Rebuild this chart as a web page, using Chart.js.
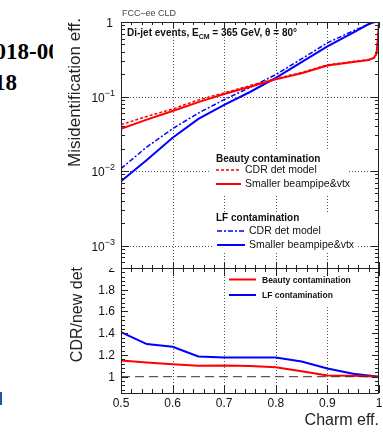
<!DOCTYPE html>
<html lang="en">
<head>
    <meta charset="UTF-8">
    <title>Charm tagging misidentification</title>
    <script src="https://cdn.jsdelivr.net/npm/chart.js"></script>
    <style>
        body {
            margin: 0;
            background: #fff;
            width: 383px;
            height: 432px;
            overflow: hidden;
            position: relative;
        }
        /* bits of the slide behind the figure */
        .slideText {
            position: absolute;
            left: 0;
            width: 53px;
            overflow: hidden;
            white-space: nowrap;
            font-family: 'Liberation Serif', 'Times New Roman', serif;
            font-weight: bold;
            font-size: 23px;
            line-height: 23px;
            color: #000;
        }
        .slideText span { position: relative; }
        #blueMark {
            position: absolute;
            left: 0;
            top: 392px;
            width: 2px;
            height: 13px;
            background: #1f56a8;
        }
        canvas { position: absolute; left: 0; }
        #topChart { top: 0; }
        #ratioChart { top: 262px; }
    </style>
</head>
<body>

<div class="slideText" style="top: 40px;"><span style="left: -17px;">2018-00</span></div>
<div class="slideText" style="top: 71px;"><span style="left: -29px;">2018</span></div>
<div id="blueMark"></div>

<canvas id="topChart" width="383" height="268"></canvas>
<canvas id="ratioChart" width="383" height="170"></canvas>

<script>
    // charm efficiency points (x) for the upper panel
    const effX = [0.5, 0.55, 0.6, 0.65, 0.7, 0.75, 0.8, 0.85, 0.9, 0.95, 0.98, 0.99, 0.995, 0.998, 1.0];
    // misidentification efficiencies
    const beautyCdr = [0.042, 0.054, 0.068, 0.090, 0.112, 0.140, 0.174, 0.210, 0.266, 0.295, 0.313, 0.33, 0.38, 0.63, 1.0];
    const beautyNew = [0.037, 0.049, 0.064, 0.084, 0.108, 0.135, 0.170, 0.205, 0.260, 0.290, 0.310, 0.33, 0.37, 0.60, 1.0];
    const lfCdr = [0.0108, 0.021, 0.037, 0.060, 0.091, 0.132, 0.197, 0.32, 0.525, 0.76, 0.93, 1.0, 1.0, 1.0, 1.0];
    const lfNew = [0.0073, 0.0141, 0.028, 0.050, 0.077, 0.115, 0.178, 0.29, 0.47, 0.72, 0.94, 0.99, 1.0, 1.0, 1.0];

    // ratio panel (CDR / new detector)
    const ratioX = [0.5, 0.55, 0.6, 0.65, 0.7, 0.75, 0.8, 0.85, 0.9, 0.95, 1.0];
    const beautyRatio = [1.15, 1.13, 1.115, 1.10, 1.103, 1.098, 1.086, 1.05, 1.012, 1.009, 1.0];
    const lfRatio = [1.41, 1.30, 1.275, 1.186, 1.177, 1.177, 1.177, 1.14, 1.076, 1.028, 1.0];
    const unityX = [0.5, 1.0];
    const unityY = [1, 1];

    // axis ticks
    const xTicks = [0.5, 0.6, 0.7, 0.8, 0.9, 1.0];
    const xTickLabels = ['0.5', '0.6', '0.7', '0.8', '0.9', '1'];
    const logTicks = [1, 0.1, 0.01, 0.001];
    const logTickExp = ['', '\u22121', '\u22122', '\u22123'];
    const ratioTicks = [1, 1.2, 1.4, 1.6, 1.8, 2];
    const ratioTickLabels = ['1', '1.2', '1.4', '1.6', '1.8', '2'];

    const FONT = "'Liberation Sans', Arial, Helvetica, sans-serif";
    const RED = '#ff0000';
    const BLUE = '#0000ff';

    function pts(xs, ys) {
        return xs.map((x, i) => ({ x: x, y: ys[i] }));
    }

    function line(ctx, x1, y1, x2, y2) {
        ctx.beginPath();
        ctx.moveTo(x1, y1);
        ctx.lineTo(x2, y2);
        ctx.stroke();
    }

    // dotted grid lines like ROOT
    function drawGrid(chart, xVals, yVals) {
        const ctx = chart.ctx;
        const { left, right, top, bottom } = chart.chartArea;
        ctx.save();
        ctx.strokeStyle = '#555';
        ctx.lineWidth = 1;
        ctx.setLineDash([1, 2]);
        xVals.forEach(v => {
            const px = Math.round(chart.scales.x.getPixelForValue(v)) + 0.5;
            line(ctx, px, top, px, bottom);
        });
        yVals.forEach(v => {
            const py = Math.round(chart.scales.y.getPixelForValue(v)) + 0.5;
            line(ctx, left, py, right, py);
        });
        ctx.restore();
    }

    // frame plus inward ticks on all four sides
    function drawFrame(chart, xMajor, xMinor, yTickList) {
        const ctx = chart.ctx;
        const { left, right, top, bottom } = chart.chartArea;
        ctx.save();
        ctx.strokeStyle = '#222';
        ctx.lineWidth = 1;
        ctx.strokeRect(left + 0.5, top + 0.5, right - left - 1, bottom - top);
        for (let k = 0; k <= 25; k++) {
            const v = 0.5 + k * 0.02;
            const px = Math.round(chart.scales.x.getPixelForValue(v)) + 0.5;
            const len = k % 5 === 0 ? xMajor : xMinor;
            line(ctx, px, bottom, px, bottom - len);
            line(ctx, px, top, px, top + len);
        }
        yTickList.forEach(t => {
            const py = Math.round(chart.scales.y.getPixelForValue(t.v)) + 0.5;
            line(ctx, left, py, left + t.len, py);
            line(ctx, right, py, right - t.len, py);
        });
        ctx.restore();
    }

    const topPanel = {
        id: 'topPanel',
        beforeDatasetsDraw(chart) {
            drawGrid(chart, xTicks.slice(1, -1), logTicks.slice(1));
        },
        afterDatasetsDraw(chart) {
            const ctx = chart.ctx;
            const ys = chart.scales.y;

            // legend boxes
            ctx.save();
            ctx.fillStyle = '#fff';
            ctx.fillRect(210, 151, 138, 44);
            ctx.fillRect(212, 213, 146, 40);

            ctx.fillStyle = '#111';
            ctx.textAlign = 'left';
            ctx.font = 'bold 10px ' + FONT;
            ctx.fillText('Beauty contamination', 216, 162);
            ctx.fillText('LF contamination', 216, 221);
            ctx.font = '10.5px ' + FONT;
            ctx.fillText('CDR det model', 245, 173);
            ctx.fillText('Smaller beampipe&vtx', 245, 187);
            ctx.fillText('CDR det model', 249, 234);
            ctx.fillText('Smaller beampipe&vtx', 249, 248);

            ctx.strokeStyle = RED;
            ctx.lineWidth = 1.5;
            ctx.setLineDash([3, 2]);
            line(ctx, 216, 170, 241, 170);
            ctx.setLineDash([]);
            ctx.lineWidth = 2;
            line(ctx, 216, 184, 241, 184);
            ctx.strokeStyle = BLUE;
            ctx.lineWidth = 1.5;
            ctx.setLineDash([5, 2, 2, 2]);
            line(ctx, 217, 231, 245, 231);
            ctx.setLineDash([]);
            ctx.lineWidth = 2;
            line(ctx, 217, 245, 245, 245);
            ctx.restore();

            // ticks: decades and 2..9 in between
            const yt = [{ v: 1, len: 8 }];
            for (let e = -4; e <= -1; e++) {
                for (let m = 1; m <= 9; m++) {
                    const v = m * Math.pow(10, e);
                    if (v < 5e-4 * 0.999 || v > 1.001) continue;
                    yt.push({ v: v, len: m === 1 ? 8 : 4 });
                }
            }
            drawFrame(chart, 6, 3, yt);

            // y tick labels with superscript powers
            ctx.save();
            ctx.fillStyle = '#111';
            ctx.textAlign = 'right';
            logTicks.forEach((v, i) => {
                const py = ys.getPixelForValue(v);
                if (logTickExp[i] === '') {
                    ctx.font = '12px ' + FONT;
                    ctx.fillText('1', 113, py + 5);
                } else {
                    ctx.font = '9px ' + FONT;
                    ctx.fillText(logTickExp[i], 115, py - 1);
                    const w = ctx.measureText(logTickExp[i]).width;
                    ctx.font = '12px ' + FONT;
                    ctx.fillText('10', 115 - w, py + 5);
                }
            });

            // axis title
            ctx.save();
            ctx.translate(80, 18);
            ctx.rotate(-Math.PI / 2);
            ctx.font = '17px ' + FONT;
            ctx.fillStyle = '#222';
            ctx.fillText('Misidentification eff.', 0, 0);
            ctx.restore();

            // labels above / inside the frame
            ctx.textAlign = 'left';
            ctx.fillStyle = '#444';
            ctx.font = '9px ' + FONT;
            ctx.fillText('FCC\u2013ee CLD', 122, 16);

            ctx.fillStyle = '#111';
            let x = 127;
            ctx.font = 'bold 10px ' + FONT;
            ctx.fillText('Di-jet events, E', x, 36);
            x += ctx.measureText('Di-jet events, E').width;
            ctx.font = 'bold 7px ' + FONT;
            ctx.fillText('CM', x, 39);
            x += ctx.measureText('CM').width;
            ctx.font = 'bold 10px ' + FONT;
            ctx.fillText(' = 365 GeV, \u03b8 = 80\u00b0', x, 36);
            ctx.restore();
        }
    };

    const ratioPanel = {
        id: 'ratioPanel',
        beforeDatasetsDraw(chart) {
            drawGrid(chart, xTicks.slice(1, -1), []);
            // legend box hides the grid behind it
            const ctx = chart.ctx;
            ctx.save();
            ctx.fillStyle = '#fff';
            ctx.fillRect(225, 7, 132, 36);
            ctx.restore();
        },
        afterDatasetsDraw(chart) {
            const ctx = chart.ctx;
            const { left, right, top, bottom } = chart.chartArea;
            const xs = chart.scales.x;
            const ys = chart.scales.y;

            ctx.save();
            ctx.lineWidth = 2;
            ctx.strokeStyle = RED;
            line(ctx, 229, 17.5, 256, 17.5);
            ctx.strokeStyle = BLUE;
            line(ctx, 229, 33, 256, 33);
            ctx.fillStyle = '#111';
            ctx.font = 'bold 8.5px ' + FONT;
            ctx.fillText('Beauty contamination', 262, 20.5);
            ctx.fillText('LF contamination', 262, 36);
            ctx.restore();

            const yt = [];
            for (let k = 0; k <= 28; k++) {
                const v = 0.88 + k * 0.04;
                if (v > 2.001) break;
                const r = (v - 1) / 0.2;
                yt.push({ v: v, len: Math.abs(r - Math.round(r)) < 1e-6 ? 7 : 4 });
            }
            drawFrame(chart, 8, 4, yt);

            ctx.save();
            ctx.fillStyle = '#111';
            ctx.font = '12px ' + FONT;
            ctx.textAlign = 'right';
            // the "2" label is half hidden by the upper pad
            ctx.save();
            ctx.beginPath();
            ctx.rect(0, top, left, bottom - top);
            ctx.clip();
            ratioTicks.forEach((v, i) => {
                ctx.fillText(ratioTickLabels[i], 115, ys.getPixelForValue(v) + 4);
            });
            ctx.restore();

            ctx.textAlign = 'center';
            xTicks.forEach((v, i) => {
                ctx.fillText(xTickLabels[i], xs.getPixelForValue(v), bottom + 14);
            });

            ctx.fillStyle = '#222';
            ctx.font = '16px ' + FONT;
            ctx.textAlign = 'right';
            ctx.fillText('Charm eff.', right, bottom + 32);

            ctx.translate(82, top - 1);
            ctx.rotate(-Math.PI / 2);
            ctx.fillText('CDR/new det', 0, 0);
            ctx.restore();
        }
    };

    const common = {
        responsive: false,
        animation: false,
        devicePixelRatio: 1,
        plugins: { legend: { display: false }, tooltip: { enabled: false } },
        elements: { point: { radius: 0 }, line: { tension: 0, fill: false } }
    };

    new Chart(document.getElementById('topChart'), {
        type: 'line',
        data: {
            datasets: [
                { label: 'Beauty CDR det model', data: pts(effX, beautyCdr), borderColor: RED, borderWidth: 1.5, borderDash: [3, 2] },
                { label: 'Beauty smaller beampipe&vtx', data: pts(effX, beautyNew), borderColor: RED, borderWidth: 2 },
                { label: 'LF CDR det model', data: pts(effX, lfCdr), borderColor: BLUE, borderWidth: 1.5, borderDash: [5, 2, 2, 2] },
                { label: 'LF smaller beampipe&vtx', data: pts(effX, lfNew), borderColor: BLUE, borderWidth: 2 }
            ]
        },
        options: Object.assign({}, common, {
            layout: { padding: { left: 121, right: 4, top: 22, bottom: 0 } },
            scales: {
                x: { type: 'linear', min: 0.5, max: 1, display: false },
                y: { type: 'logarithmic', min: 5e-4, max: 1, display: false }
            }
        }),
        plugins: [topPanel]
    });

    new Chart(document.getElementById('ratioChart'), {
        type: 'line',
        data: {
            datasets: [
                { label: 'unity', data: pts(unityX, unityY), borderColor: '#333', borderWidth: 1, borderDash: [9, 5] },
                { label: 'Beauty contamination', data: pts(ratioX, beautyRatio), borderColor: RED, borderWidth: 2 },
                { label: 'LF contamination', data: pts(ratioX, lfRatio), borderColor: BLUE, borderWidth: 2 }
            ]
        },
        options: Object.assign({}, common, {
            layout: { padding: { left: 121, right: 4, top: 6, bottom: 39 } },
            scales: {
                x: { type: 'linear', min: 0.5, max: 1, display: false },
                y: { type: 'linear', min: 0.85, max: 2.0, display: false }
            }
        }),
        plugins: [ratioPanel]
    });
</script>

</body>
</html>
